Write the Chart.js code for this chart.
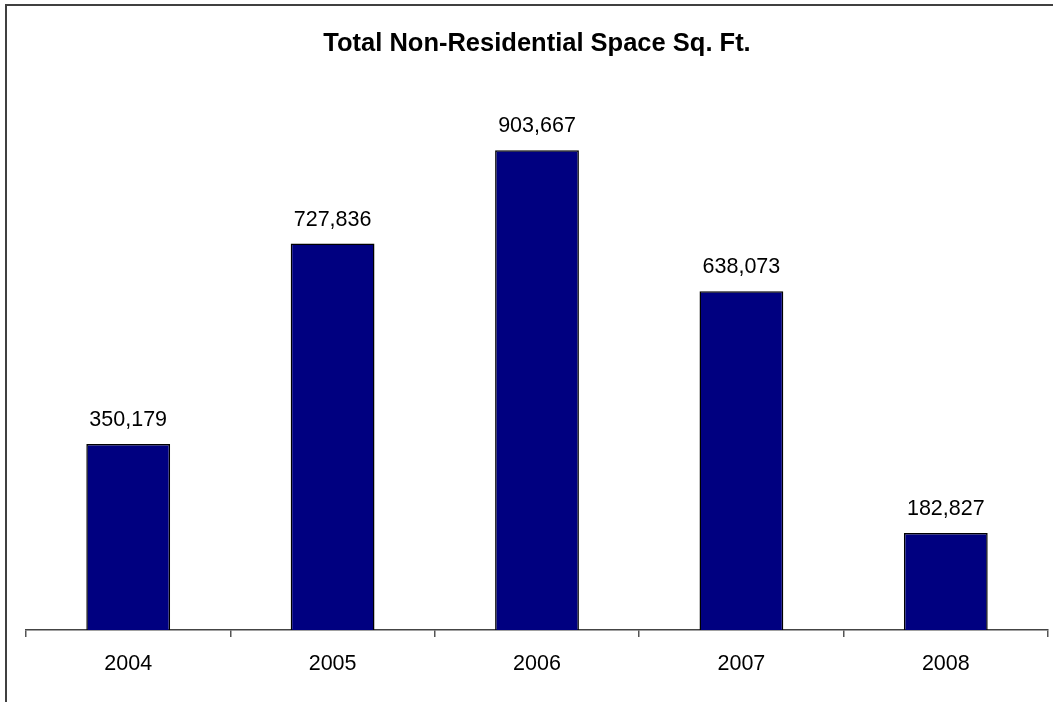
<!DOCTYPE html>
<html>
<head>
<meta charset="utf-8">
<script src="https://cdn.jsdelivr.net/npm/chart.js@4"></script>
<style>
html,body{margin:0;padding:0;background:#fff;overflow:hidden;}
#wrap{position:relative;width:1053px;height:702px;}
#frame{position:absolute;left:5px;top:4px;width:1100px;height:760px;border-left:2px solid #404040;border-top:2px solid #404040;pointer-events:none;}
canvas{position:absolute;left:0;top:0;}
</style>
</head>
<body>
<div id="wrap">
<canvas id="spaceChart" width="1053" height="702"></canvas>
<div id="frame"></div>
</div>
<script>

/* =====================
   Data
===================== */

const years=["2004","2005","2006","2007","2008"];

const sqFeet=[350179,727836,903667,638073,182827];

const chartTitle="Total Non-Residential Space Sq. Ft.";



/* =====================
   Value labels above bars
===================== */

const valueLabels={

id:"valueLabels",

afterDatasetsDraw(chart){

const c=chart.ctx;

const meta=chart.getDatasetMeta(0);

c.save();

c.font="21.5px 'Liberation Sans', Arial, sans-serif";

c.fillStyle="#000";

c.textAlign="center";

c.textBaseline="alphabetic";

meta.data.forEach((bar,i)=>{

c.fillText(sqFeet[i].toLocaleString("en-US"),bar.x,bar.y-18);

});

c.restore();

}

};



/* =====================
   Chart
===================== */

const ctx=document.getElementById("spaceChart").getContext("2d");

new Chart(ctx,{

type:"bar",

data:{

labels:years,

datasets:[{

data:sqFeet,

backgroundColor:"#000080",

borderColor:"#000",

borderWidth:1.5,

categoryPercentage:1,

barPercentage:0.41

}]

},

options:{

responsive:false,

animation:false,

layout:{padding:{left:26,right:5,top:0,bottom:0}},

plugins:{

legend:{display:false},

tooltip:{enabled:false},

title:{

display:true,

text:chartTitle,

color:"#000",

font:{family:"'Liberation Sans', Arial, sans-serif",size:25.5,weight:"bold",lineHeight:1.2},

padding:{top:29,bottom:39.5}

}

},

scales:{

x:{

offset:true,

grid:{offset:true,drawOnChartArea:false,drawTicks:true,tickLength:7,color:"#555",lineWidth:1.5},

border:{display:true,color:"#444",width:1.5},

ticks:{color:"#000",padding:14,font:{family:"'Liberation Sans', Arial, sans-serif",size:21.5}},

afterFit(scale){scale.height=72;}

},

y:{

display:false,

min:0,

max:1000000

}

}

},

plugins:[valueLabels]

});

</script>
</body>
</html>
